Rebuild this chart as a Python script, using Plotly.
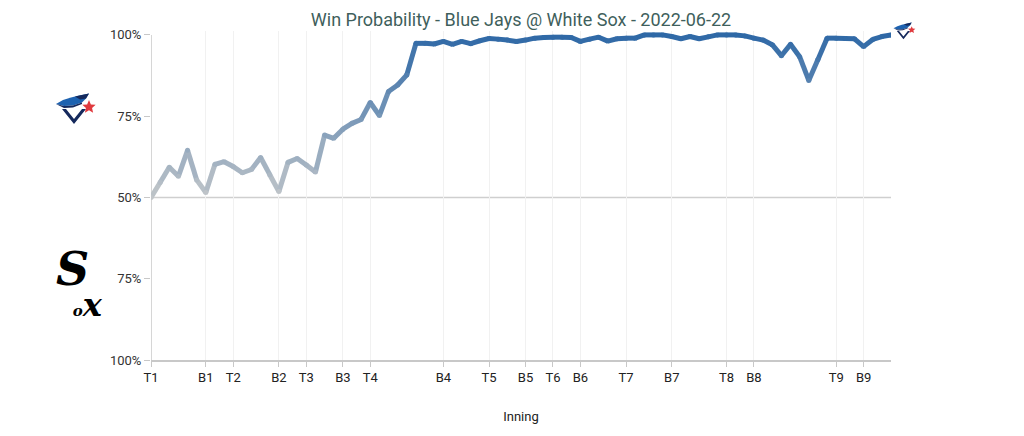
import math
import plotly.graph_objects as go

# ---------------- data ----------------
tick_idx = [0, 6, 9, 14, 17, 21, 24, 32, 37, 41, 44, 47, 52, 57, 63, 66, 75, 78]
tick_labels = ["T1", "B1", "T2", "B2", "T3", "B3", "T4", "B4", "T5", "B5",
               "T6", "B6", "T7", "B7", "T8", "B8", "T9", "B9"]

# Blue Jays win probability (%) after each play
win_prob = [50, 54.6, 59.3, 56.5, 64.5, 55.4, 51.5, 60.2, 61, 59.5,
            57.6, 58.6, 62.3, 57, 51.8, 60.8, 62, 60, 57.8, 69.2,
            68.2, 71, 72.8, 74, 79.2, 75.2, 82.6, 84.6, 87.7, 97.4,
            97.4, 97.2, 98, 97.1, 98, 97.3, 98.2, 98.9, 98.7, 98.4,
            98.0, 98.4, 99, 99.2, 99.3, 99.3, 99.2, 98.0, 98.7, 99.3,
            98.1, 98.8, 99, 99, 100, 100, 100, 99.5, 98.8, 99.5,
            98.8, 99.4, 100, 100, 100, 99.7, 99.0, 98.4, 97, 93.6,
            97.1, 93.3, 86, 92.4, 99, 99, 98.9, 98.8, 96.4, 98.6,
            99.5, 100]
plays = list(range(len(win_prob)))

y_tickvals = [0, 25, 50, 75, 100]
y_ticktext = ["100%", "75%", "50%", "75%", "100%"]

title_text = "Win Probability - Blue Jays @ White Sox - 2022-06-22"

# ---------------- layout geometry (page pixels) ----------------
OFF = 8                      # default body margin of the html page
W, H = 1000, 418
L, R, T, B = 151, 891, 31, 360

GRAY = (194, 198, 201)
BLUE = (46, 104, 166)


def color_for(v):
    t = max(0.0, min(1.0, (v - 50) / 50.0))
    c = [round(g + (b - g) * t) for g, b in zip(GRAY, BLUE)]
    return "rgb(%d,%d,%d)" % tuple(c)


def pp(x, y):
    return (x - L) / (R - L), (B - y) / (B - T)


def path_from(points, cx, cy, s, ox, oy):
    parts = []
    for i, (x, y) in enumerate(points):
        X, Y = pp(ox + (x - cx) * s, oy + (y - cy) * s)
        parts.append(("M" if i == 0 else "L") + "%.5f,%.5f" % (X, Y))
    return " ".join(parts) + " Z"


fig = go.Figure()

# gradient line: one segment per play
for i in range(len(win_prob) - 1):
    fig.add_trace(go.Scatter(
        x=[plays[i], plays[i + 1]], y=[win_prob[i], win_prob[i + 1]],
        mode="lines", line=dict(color=color_for((win_prob[i] + win_prob[i + 1]) / 2), width=5),
        hoverinfo="skip", showlegend=False))
fig.add_trace(go.Scatter(
    x=plays, y=win_prob, mode="markers",
    marker=dict(size=5, color=[color_for(v) for v in win_prob], line=dict(width=0)),
    hoverinfo="skip", showlegend=False))

shapes = []
# 50% reference line
shapes.append(dict(type="line", xref="x", yref="y", x0=0, x1=plays[-1], y0=50, y1=50,
                   line=dict(color="#cfcfcf", width=1.5), layer="below"))
# left axis line
shapes.append(dict(type="line", xref="x", yref="y", x0=0, x1=0, y0=0, y1=100,
                   line=dict(color="#c8c8c8", width=1.5), layer="below"))

# Blue Jays logo approximation (drawn around centre 74,106)
jay_head = [(55, 103), (62, 99), (70, 96.5), (78, 94.5), (88, 92.5), (85, 97.5),
            (81, 101.5), (72, 104.5), (63, 105)]
jay_crest = [(74, 95.5), (88, 92.5), (85, 97.5), (79, 98.5)]
jay_under = [(55, 103), (63, 105), (72, 104.5), (81, 101.5), (81, 103), (72, 106.5), (63, 107)]
jay_v = [(61, 108), (73, 123), (85, 108), (81, 108), (73, 118), (65, 108)]
leaf = []
for k in range(10):
    r = 7.0 if k % 2 == 0 else 3.2
    a = math.pi / 2 + k * math.pi / 5
    leaf.append((88 + r * math.cos(a), 106 - r * math.sin(a)))

for (ox, oy, s) in [(75, 107, 1.0), (904, 30, 0.55)]:
    for pts, col in [(jay_head, "#1d62b0"), (jay_crest, "#15295c"),
                     (jay_under, "#15295c"), (jay_v, "#15295c"), (leaf, "#e03a3e")]:
        shapes.append(dict(type="path", xref="paper", yref="paper",
                           path=path_from(pts, 74, 106, s, ox, oy),
                           fillcolor=col, line=dict(width=0)))

annotations = []
sx, sy = pp(54, 283)
annotations.append(dict(
    xref="paper", yref="paper", x=sx, y=sy, xanchor="left", yanchor="middle", align="left",
    text="<b><i><span style='font-size:46px'>S</span><br>&nbsp;&nbsp;"
         "<span style='font-size:15px'>o</span><span style='font-size:32px'>x</span></i></b>",
    showarrow=False, font=dict(family="DejaVu Serif", size=24, color="#000000")))

fig.update_layout(
    width=W, height=H,
    margin=dict(l=L - OFF, r=W - (R - OFF), t=T - OFF, b=H - (B - OFF), pad=0, autoexpand=False),
    paper_bgcolor="white", plot_bgcolor="white",
    font=dict(family="Roboto", size=13, color="#333333"),
    title=dict(text=title_text, x=((L + R) / 2 - OFF) / W, xanchor="center",
               y=1 - (20 - OFF) / H, yanchor="middle", yref="container",
               font=dict(family="Roboto", size=18, color="#3f5f5c")),
    xaxis=dict(range=[0, plays[-1]], tickvals=tick_idx, ticktext=tick_labels,
               automargin=False,
               showgrid=True, gridcolor="#f1f1f1", gridwidth=1,
               showline=True, linecolor="#c8c8c8", linewidth=1.5,
               ticks="outside", ticklen=5, tickcolor="#c8c8c8",
               zeroline=False, tickfont=dict(size=13, color="#222222"),
               title=dict(text="Inning", standoff=28, font=dict(size=13, color="#222222"))),
    yaxis=dict(range=[0, 101.2], tickvals=y_tickvals, ticktext=y_ticktext,
               automargin=False,
               showgrid=False, showline=False, zeroline=False,
               ticks="outside", ticklen=6, tickcolor="#c8c8c8",
               tickfont=dict(size=13, color="#333333")),
    shapes=shapes, annotations=annotations,
    showlegend=False, hovermode=False,
)

fig.write_html("out.html")
